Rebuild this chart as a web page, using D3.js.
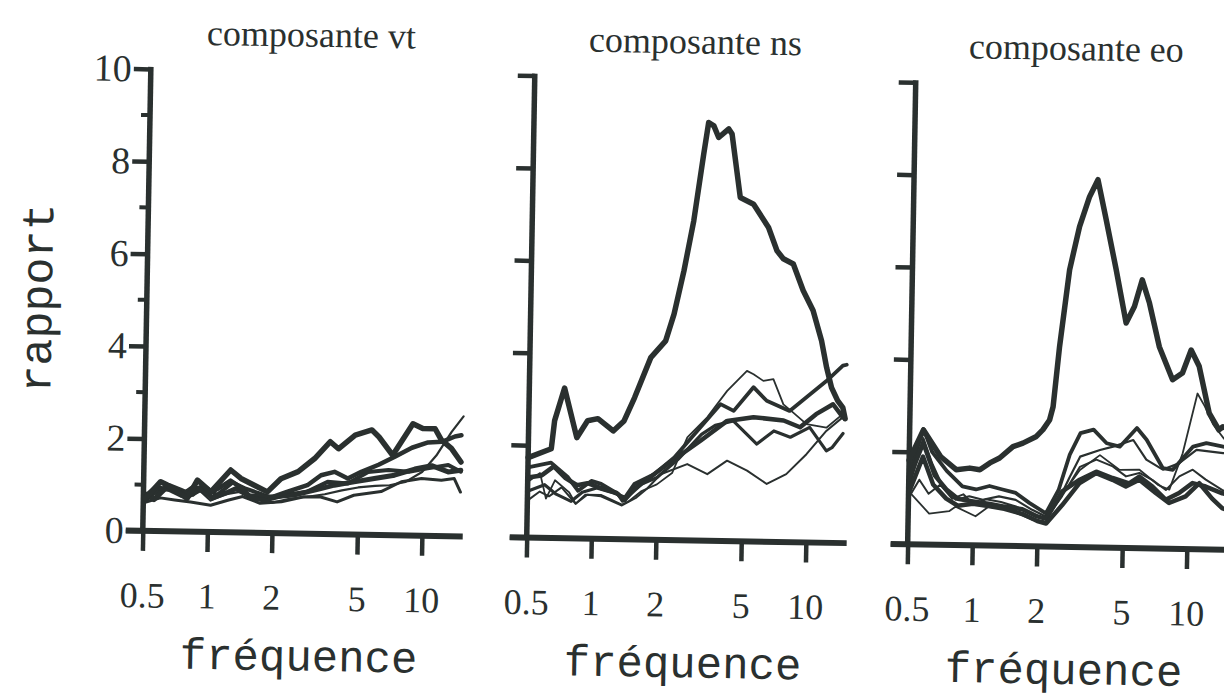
<!DOCTYPE html>
<html>
<head>
<meta charset="utf-8">
<script src="https://cdn.jsdelivr.net/npm/d3@7"></script>
<style>
  html, body { margin: 0; padding: 0; background: #ffffff; }
  svg { display: block; }
</style>
</head>
<body>
<div id="chart"></div>
<script>
// axis ticks and titles
const freqTicks = [0.5, 1, 2, 5, 10];
const ratioTicks = [0, 2, 4, 6, 8, 10];
const ratioMinorTicks = [1, 3, 5, 7, 9];
const panelTitles = ["composante vt", "composante ns", "composante eo"];
const xTitle = "fréquence";
const yTitle = "rapport";

// composante vt : [fréquence, rapport]
const vtA = [[0.51,0.70],[0.60,1.07],[0.645,1.00],[0.80,0.72],[0.89,1.12],[1.03,0.87],[1.27,1.35],[1.42,1.17],[1.64,1.03],[1.89,0.89],[2.18,1.18],[2.62,1.34],[3.12,1.63],[3.68,2.0],[4.02,1.85],[4.8,2.15],[5.74,2.27],[6.2,2.12],[7.2,1.73],[8.9,2.42],[9.9,2.32],[11.3,2.32],[12.1,2.08],[13.5,1.9],[15.0,1.61]];
const vtB = [[0.51,0.75],[0.57,0.95],[0.66,0.9],[0.75,0.78],[0.86,0.98],[1.0,0.82],[1.12,0.95],[1.27,1.12],[1.42,0.98],[1.6,0.75],[1.9,0.7],[2.05,0.8],[2.33,0.90],[2.9,1.05],[3.35,1.27],[3.87,1.35],[4.47,1.21],[5.16,1.36],[6.2,1.52],[7.37,1.70],[8.84,1.90],[10.5,2.02],[12.2,2.04],[14.0,2.16],[15.0,2.19]];
const vtC = [[0.51,0.62],[0.58,0.88],[0.68,0.95],[0.8,0.72],[0.92,0.88],[1.03,0.68],[1.2,0.82],[1.4,0.88],[1.7,0.72],[2.0,0.66],[2.4,0.75],[2.9,0.8],[3.5,0.86],[4.2,0.95],[5.0,1.02],[6.0,1.06],[7.0,1.08],[8.3,1.16],[9.9,1.38],[11.5,1.74],[13.5,2.26],[15.3,2.6]];
const vtD = [[0.51,0.8],[0.56,0.68],[0.64,0.95],[0.72,0.86],[0.8,0.78],[0.92,0.96],[1.05,0.74],[1.2,0.84],[1.35,0.95],[1.55,0.8],[1.95,0.78],[2.51,0.83],[3.35,0.98],[3.87,1.06],[4.78,1.14],[5.94,1.22],[7.37,1.30],[9.15,1.44],[10.97,1.52],[13.1,1.39],[15.0,1.43]];
const vtE = [[0.51,0.62],[0.6,0.72],[0.7,0.68],[0.83,0.64],[1.03,0.58],[1.25,0.7],[1.45,0.78],[1.75,0.64],[2.2,0.68],[2.8,0.8],[3.35,0.80],[4.0,0.70],[4.78,0.85],[6.4,0.94],[7.94,1.16],[9.85,1.24],[12.2,1.21],[14.0,1.25],[15.0,0.96]];
const vtF = [[0.51,0.7],[0.58,0.85],[0.66,1.0],[0.75,0.9],[0.85,0.8],[0.95,1.0],[1.1,0.8],[1.3,1.08],[1.5,0.95],[1.75,0.85],[2.0,0.75],[2.4,0.85],[2.9,0.91],[3.6,1.13],[4.47,1.10],[5.55,1.36],[6.9,1.41],[8.6,1.38],[10.5,1.46],[13.1,1.54],[15.0,1.40]];

// composante ns
const nsA = [[0.5,1.73],[0.64,1.93],[0.66,2.54],[0.73,3.25],[0.84,2.18],[0.94,2.55],[1.05,2.60],[1.24,2.34],[1.39,2.56],[1.55,3.07],[1.83,3.94],[2.14,4.31],[2.33,4.89],[2.57,5.83],[2.83,6.92],[3.11,8.37],[3.26,9.05],[3.45,8.98],[3.64,8.73],[4.05,8.92],[4.2,8.81],[4.64,7.44],[5.36,7.30],[6.32,6.80],[6.95,6.30],[7.45,6.13],[8.3,6.02],[9.27,5.45],[10.35,5.02],[11.4,4.37],[12.1,3.79],[12.8,3.36],[13.7,3.08],[14.5,2.93],[14.9,2.69]];
const nsB = [[0.5,1.52],[0.64,1.63],[0.77,1.32],[0.86,1.03],[0.99,1.25],[1.1,1.19],[1.32,0.98],[1.39,0.83],[1.57,1.20],[1.94,1.42],[2.4,1.79],[3.16,2.45],[3.9,2.96],[4.5,2.82],[5.54,3.34],[6.4,3.05],[8.2,2.84],[9.8,3.14],[12.1,3.5],[14.4,3.84],[15.0,3.86]];
const nsC = [[0.5,1.2],[0.57,1.4],[0.61,0.85],[0.67,1.25],[0.78,1.0],[0.84,0.75],[0.93,0.95],[1.1,0.95],[1.38,0.75],[1.48,0.82],[1.7,1.05],[2.0,1.2],[2.35,1.45],[2.75,2.23],[3.39,2.67],[4.18,3.25],[5.15,3.69],[5.53,3.62],[6.15,3.48],[6.85,3.52],[7.66,2.98],[8.5,2.81],[9.85,2.56],[12.2,2.49],[14.5,2.79]];
const nsD = [[0.5,1.3],[0.58,1.35],[0.66,1.55],[0.75,1.3],[0.85,1.15],[0.95,1.2],[1.1,1.1],[1.3,1.0],[1.42,0.85],[1.57,1.1],[1.8,1.3],[2.23,1.64],[3.17,2.16],[4.2,2.6],[5.57,2.69],[7.7,2.63],[9.2,2.49],[10.9,2.78],[13.05,3.0],[14.55,2.72]];
const nsE = [[0.5,1.0],[0.6,1.15],[0.68,0.95],[0.8,0.8],[0.9,1.0],[1.05,1.1],[1.25,1.0],[1.45,0.9],[1.7,1.2],[2.0,1.35],[2.5,1.75],[3.2,2.3],[3.7,2.5],[4.5,2.6],[5.8,2.11],[6.95,2.4],[8.3,2.27],[10.2,2.49],[12.25,1.99],[13.0,2.06],[14.6,2.37]];
const nsF = [[0.5,0.8],[0.57,1.0],[0.63,0.9],[0.72,1.1],[0.84,0.75],[0.95,0.95],[1.1,0.92],[1.38,0.73],[1.6,0.9],[1.8,1.1],[2.08,1.42],[2.76,1.65],[3.43,1.44],[4.23,1.74],[5.25,1.53],[6.5,1.25],[8.0,1.47],[9.9,1.91],[12.2,2.42],[14.5,2.72]];

// composante eo
const eoA = [[0.5,1.82],[0.58,2.48],[0.70,1.91],[0.83,1.63],[0.96,1.67],[1.07,1.64],[1.19,1.79],[1.32,1.90],[1.52,2.15],[1.69,2.23],[1.95,2.38],[2.09,2.53],[2.24,2.74],[2.32,3.03],[2.46,4.34],[2.7,6.0],[2.98,6.94],[3.3,7.59],[3.6,7.96],[3.96,7.10],[4.45,6.02],[5.0,4.87],[5.45,5.23],[5.9,5.81],[6.4,5.31],[7.17,4.37],[8.32,3.66],[9.24,3.81],[10.1,4.31],[11.04,3.96],[12.4,2.95],[13.8,2.59],[14.4,2.66],[15.4,2.6]];
const eoB = [[0.5,1.5],[0.58,2.5],[0.64,2.0],[0.75,1.6],[0.89,1.27],[1.03,1.21],[1.19,1.29],[1.37,1.22],[1.58,1.15],[1.83,0.94],[2.19,0.72],[2.5,1.23],[2.8,2.0],[3.13,2.47],[3.6,2.55],[4.15,2.26],[4.78,2.19],[5.73,2.60],[6.37,2.35],[7.62,1.74],[8.48,1.71],[10.5,2.22],[12.1,2.30],[14.5,2.23],[15.4,2.2]];
const eoC = [[0.5,1.2],[0.58,2.3],[0.64,1.76],[0.72,1.26],[0.83,0.98],[0.96,1.06],[1.11,0.99],[1.32,1.07],[1.58,1.0],[1.89,0.79],[2.19,0.65],[2.5,1.0],[2.8,1.5],[3.13,1.96],[3.87,2.11],[4.45,2.19],[5.52,2.34],[6.37,1.92],[7.62,1.71],[9.11,1.86],[10.9,2.15],[14.5,2.09],[15.4,2.1]];
const eoD = [[0.5,1.0],[0.56,1.4],[0.62,1.1],[0.7,1.3],[0.8,1.0],[0.9,1.1],[1.0,0.9],[1.15,1.0],[1.35,0.95],[1.6,0.85],[1.9,0.7],[2.2,0.6],[2.6,1.1],[3.13,1.74],[3.73,1.90],[4.45,1.76],[5.14,1.55],[5.93,1.63],[6.84,1.48],[7.9,1.27],[9.11,1.57],[10.5,1.72],[12.1,1.51],[14.5,1.29],[15.4,1.25]];
const eoE = [[0.5,1.4],[0.58,2.2],[0.66,1.5],[0.75,1.2],[0.85,1.0],[1.0,0.95],[1.2,0.9],[1.4,0.85],[1.7,0.8],[2.0,0.65],[2.2,0.6],[2.6,1.2],[3.13,1.46],[3.73,1.64],[4.45,1.51],[5.32,1.40],[5.93,1.55],[6.84,1.34],[7.9,1.06],[9.11,1.21],[10.5,1.43],[12.1,1.36],[14.5,1.22],[15.4,1.2]];
const eoF = [[0.5,1.1],[0.58,1.9],[0.65,1.3],[0.75,1.0],[0.85,0.85],[1.0,0.9],[1.2,0.85],[1.4,0.8],[1.7,0.7],[2.0,0.55],[2.2,0.5],[2.6,0.9],[3.13,1.39],[3.73,1.61],[4.45,1.47],[5.14,1.33],[5.93,1.48],[7.09,1.20],[8.19,0.99],[9.78,1.14],[11.3,1.43],[13.0,1.1],[14.5,0.9],[15.4,0.85]];
const eoG = [[0.5,1.15],[0.626,0.67],[0.775,0.73],[0.83,0.83],[1.03,0.63],[1.19,0.85],[1.37,0.82],[1.58,0.72],[1.89,0.58],[2.11,0.55],[2.5,1.02],[3.13,1.67],[3.87,2.0],[4.78,1.69],[5.93,1.70],[7.3,1.37],[8.2,1.28],[9.4,2.07],[10.9,3.37],[11.8,3.1],[13.0,2.7],[14.6,2.4]];

const width = 1224;
const height = 699;
const ink = "#2a302f";
const serif = "'Liberation Serif', 'Times New Roman', serif";
const mono = "'Liberation Mono', 'Courier New', monospace";

const svg = d3.select("#chart").append("svg")
    .attr("width", width)
    .attr("height", height)
    .style("background", "#ffffff");

// the scanned page is turned about one degree, so the whole figure is too
const root = svg.append("g").attr("transform", "rotate(1, 612, 350)");

const panels = [
    {title: panelTitles[0], left: 146, curves: [vtE, vtC, vtF, vtD, vtB, vtA], widths: [3, 2.2, 4, 5, 4.5, 5.5], labels: true},
    {title: panelTitles[1], left: 530, curves: [nsF, nsC, nsE, nsD, nsB, nsA], widths: [2, 1.8, 3.2, 4.5, 3.8, 5.5], labels: false},
    {title: panelTitles[2], left: 911, curves: [eoG, eoD, eoC, eoB, eoE, eoF, eoA], widths: [1.8, 2, 2.2, 3.8, 4.5, 4.5, 5.5], labels: false}
];

const x = d3.scaleLog().domain([0.5, 15.5]).range([0, 320]);
const y = d3.scaleLinear().domain([0, 10]).range([539, 77]);

const line = d3.line()
    .x(d => x(d[0]))
    .y(d => y(d[1]));

panels.forEach(p => {
    const g = root.append("g").attr("transform", `translate(${p.left},0)`);

    // y ticks (labels only on the first panel)
    const yAxis = d3.axisLeft(y)
        .tickValues(ratioTicks)
        .tickSize(17)
        .tickSizeOuter(0)
        .tickPadding(2)
        .tickFormat(p.labels ? d3.format("d") : () => "");
    const ya = g.append("g").call(yAxis);
    ya.select(".domain").remove();
    ya.selectAll("line").attr("stroke", ink).attr("stroke-width", 4.5);
    ya.selectAll("text")
        .attr("fill", ink)
        .style("font-family", serif)
        .style("font-size", "38px");

    if (p.labels) {
        g.append("g").selectAll("line")
            .data(ratioMinorTicks)
            .join("line")
            .attr("x1", -9).attr("x2", 0)
            .attr("y1", d => y(d)).attr("y2", d => y(d))
            .attr("stroke", ink).attr("stroke-width", 4);
    }

    // x ticks
    const xAxis = d3.axisBottom(x)
        .tickValues(freqTicks)
        .tickSize(20)
        .tickSizeOuter(0)
        .tickPadding(31)
        .tickFormat(d => String(d));
    const xa = g.append("g").attr("transform", `translate(0,${y(0)})`).call(xAxis);
    xa.select(".domain").remove();
    xa.selectAll("line").attr("stroke", ink).attr("stroke-width", 4.5);
    xa.selectAll("text")
        .attr("fill", ink)
        .style("font-family", serif)
        .style("font-size", "36px");

    // axis lines
    g.append("line")
        .attr("x1", x(0.5)).attr("x2", x(0.5))
        .attr("y1", y(0)).attr("y2", y(10) - 2)
        .attr("stroke", ink).attr("stroke-width", 5.5);
    g.append("line")
        .attr("x1", x(0.5) - 17).attr("x2", x(15.5))
        .attr("y1", y(0)).attr("y2", y(0))
        .attr("stroke", ink).attr("stroke-width", 6);

    // curves
    g.append("g")
        .attr("fill", "none")
        .attr("stroke", ink)
        .attr("stroke-linejoin", "round")
        .attr("stroke-linecap", "round")
        .selectAll("path")
        .data(p.curves)
        .join("path")
        .attr("stroke-width", (d, i) => p.widths[i])
        .attr("d", line);

    // titles
    g.append("text")
        .attr("x", 160).attr("y", 52)
        .attr("text-anchor", "middle")
        .attr("fill", ink)
        .style("font-family", serif)
        .style("font-size", "36px")
        .text(p.title);

    g.append("text")
        .attr("x", 158).attr("y", 676)
        .attr("text-anchor", "middle")
        .attr("fill", ink)
        .style("font-family", mono)
        .style("font-size", "44px")
        .text(xTitle);
});

root.append("text")
    .attr("transform", "translate(51,308) rotate(-90)")
    .attr("text-anchor", "middle")
    .attr("fill", ink)
    .style("font-family", mono)
    .style("font-size", "45px")
    .text(yTitle);
</script>
</body>
</html>
